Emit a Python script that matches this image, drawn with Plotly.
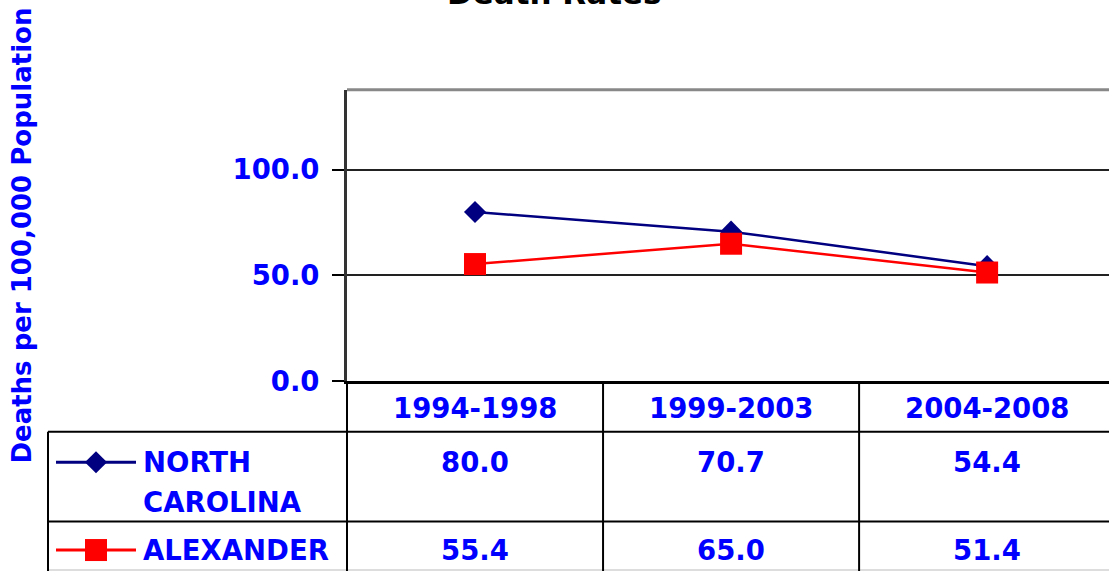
import plotly.graph_objects as go

# data
periods = ["1994-1998", "1999-2003", "2004-2008"]
series_names = ["NORTH CAROLINA", "ALEXANDER"]
nc_rates = [80.0, 70.7, 54.4]
alex_rates = [55.4, 65.0, 51.4]
y_ticks = [0, 50, 100]

W = 1109
REF_H = 572        # height of the target picture
FIG_H = 587        # layout height; the capture squeezes it back to ~572
BLUE = "#0000FF"
NAVY = "#000080"
RED = "#FF0000"
FONT = "DejaVu Sans"


def px_x(p):
    return p / W


def px_y(p):
    return 1 - p / REF_H


styles = [
    dict(color=NAVY, symbol="diamond", size=17),
    dict(color=RED, symbol="square", size=22),
]
values = [nc_rates, alex_rates]

fig = go.Figure()

# chart lines
for name, vals, st in zip(series_names, values, styles):
    fig.add_trace(go.Scatter(
        x=periods, y=vals, name=name, mode="lines+markers",
        line=dict(color=st["color"], width=2.5),
        marker=dict(color=st["color"], symbol=st["symbol"], size=st["size"]),
        xaxis="x", yaxis="y", cliponaxis=False,
    ))

# legend keys inside the data table (helper axes x2/y2, one row per series)
for i, st in enumerate(styles):
    fig.add_trace(go.Scatter(
        x=[0, 1], y=[i, i], mode="lines",
        line=dict(color=st["color"], width=3),
        xaxis="x2", yaxis="y2", hoverinfo="skip",
    ))
    fig.add_trace(go.Scatter(
        x=[0.5], y=[i], mode="markers",
        marker=dict(color=st["color"], symbol=st["symbol"], size=st["size"]),
        xaxis="x2", yaxis="y2", hoverinfo="skip",
    ))

bold_blue = dict(family=FONT, size=27.5, color=BLUE, weight="bold")

annotations = []
# header row: period labels
for p in periods:
    annotations.append(dict(x=p, xref="x", y=px_y(409), yref="paper",
                            text=p, showarrow=False, font=bold_blue,
                            xanchor="center", yanchor="middle"))
# value cells
for i, vals in enumerate(values):
    for p, v in zip(periods, vals):
        annotations.append(dict(x=p, xref="x", y=i, yref="y2",
                                text=f"{v:.1f}", showarrow=False, font=bold_blue,
                                xanchor="center", yanchor="middle"))
# row labels (wrapped word per line)
for i, name in enumerate(series_names):
    words = name.split(" ")
    for j, w in enumerate(words):
        annotations.append(dict(x=px_x(141), xref="paper", y=i + j * 40 / 88, yref="y2",
                                text=w, showarrow=False, font=bold_blue,
                                xanchor="left", yanchor="middle"))
# axis title and chart title
annotations.append(dict(x=px_x(22), xref="paper", y=px_y(236), yref="paper",
                        text="Deaths per 100,000 Population", textangle=-90,
                        showarrow=False,
                        font=dict(family=FONT, size=26, color=BLUE, weight="bold"),
                        xanchor="center", yanchor="middle"))
annotations.append(dict(x=px_x(554), xref="paper", y=px_y(-7), yref="paper",
                        text="Death Rates", showarrow=False,
                        font=dict(family=FONT, size=31, color="black", weight="bold"),
                        xanchor="center", yanchor="middle"))

# table grid + plot frame
line_k = dict(color="black", width=2)
shapes = [
    dict(type="line", xref="paper", yref="paper", x0=px_x(347), x1=1,
         y0=px_y(90), y1=px_y(90), line=dict(color="#888888", width=3)),
    dict(type="line", xref="paper", yref="paper", x0=px_x(48), x1=1,
         y0=px_y(432.5), y1=px_y(432.5), line=line_k),
    dict(type="line", xref="paper", yref="paper", x0=px_x(48), x1=1,
         y0=px_y(522.5), y1=px_y(522.5), line=line_k),
    dict(type="line", xref="paper", yref="paper", x0=px_x(48), x1=1,
         y0=px_y(571), y1=px_y(571), line=dict(color="#dddddd", width=2)),
    dict(type="line", xref="paper", yref="paper", x0=px_x(48), x1=px_x(48),
         y0=px_y(432.5), y1=0, line=line_k),
    dict(type="line", xref="paper", yref="paper", x0=px_x(347), x1=px_x(347),
         y0=px_y(382), y1=0, line=line_k),
]
for k in range(len(periods) - 1):
    shapes.append(dict(type="line", xref="x", yref="paper", x0=k + 0.5, x1=k + 0.5,
                       y0=px_y(382), y1=0, line=line_k))

fig.update_layout(
    width=W, height=FIG_H, autosize=False,
    margin=dict(l=0, r=0, t=0, b=0),
    paper_bgcolor="white", plot_bgcolor="white",
    showlegend=False,
    font=dict(family=FONT),
    annotations=annotations,
    shapes=shapes,
    xaxis=dict(domain=[px_x(347), 1], type="category", range=[-0.5, 2.476],
               showticklabels=False, ticks="", showgrid=False, zeroline=False,
               showline=True, linecolor="black", linewidth=3),
    yaxis=dict(domain=[px_y(382), px_y(90)], range=[0, 137.7],
               tickvals=y_ticks, tickformat=".1f", ticks="outside", ticklen=12,
               tickwidth=2, tickcolor="black", tickfont=bold_blue,
               ticklabelstandoff=7,
               showgrid=True, gridcolor="#222222", gridwidth=1.5, zeroline=False,
               showline=True, linecolor="#333333", linewidth=3),
    xaxis2=dict(domain=[px_x(56), px_x(136)], range=[0, 1], anchor="y2", visible=False),
    yaxis2=dict(domain=[0, px_y(382)], range=[(REF_H - 463) / 88, (382 - 463) / 88],
                anchor="x2", visible=False),
)

# page body has a default 8px margin; drop it so the figure fills the window
fig.write_html(
    "out.html",
    config={"displayModeBar": False, "responsive": False},
    post_script="document.body.style.margin='0';document.body.style.overflow='hidden';",
)
